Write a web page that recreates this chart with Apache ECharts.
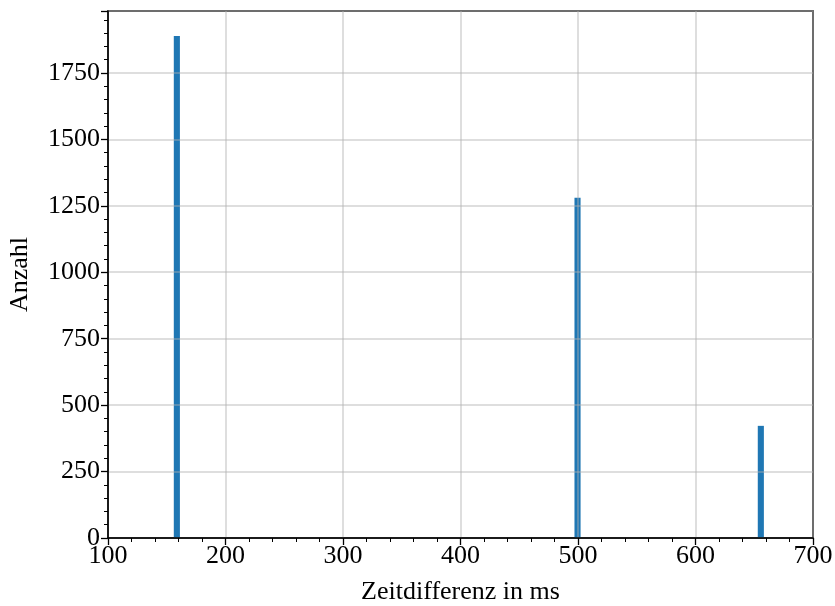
<!DOCTYPE html>
<html>
<head>
<meta charset="utf-8">
<script src="https://cdn.jsdelivr.net/npm/echarts@6/dist/echarts.min.js"></script>
<style>
  html, body { margin: 0; padding: 0; background: #fff; }
  #main { width: 835px; height: 606px; }
</style>
</head>
<body>
<div id="main"></div>
<script>
// Histogrammbalken: linke Kante, rechte Kante, Anzahl
var binStart = [156.0, 497.0, 653.0];
var binEnd = [161.2, 502.2, 658.2];
var counts = [1889, 1280, 422];

var xTicks = [100, 200, 300, 400, 500, 600, 700];
var yTicks = [0, 250, 500, 750, 1000, 1250, 1500, 1750];

var FONT = '"Liberation Serif", "DejaVu Serif", serif';

var barData = [];
for (var i = 0; i < counts.length; i++) {
    barData.push([binStart[i], binEnd[i], counts[i]]);
}

var myChart = echarts.init(document.getElementById('main'));

var option = {
    animation: false,
    grid: {
        left: 108, right: 22, top: 11, bottom: 68,
        outerBoundsMode: 'none',
        containLabel: false,
        show: true,
        borderColor: '#000',
        borderWidth: 1.5,
        backgroundColor: 'transparent'
    },
    xAxis: {
        type: 'value',
        min: xTicks[0],
        max: xTicks[xTicks.length - 1],
        interval: 100,
        z: 5,
        name: 'Zeitdifferenz in ms',
        nameLocation: 'middle',
        nameGap: 41,
        nameTextStyle: { fontFamily: FONT, fontSize: 26, color: '#000' },
        axisLine: { show: true, onZero: false, lineStyle: { color: '#000', width: 1.5 } },
        axisTick: { show: true, inside: false, length: 7, lineStyle: { color: '#000', width: 1.3 } },
        minorTick: { show: true, splitNumber: 5, length: 4, lineStyle: { color: '#000', width: 1 } },
        axisLabel: { fontFamily: FONT, fontSize: 26, color: '#000', margin: 5 },
        splitLine: { show: true, lineStyle: { color: 'rgba(176,176,176,0.55)', width: 1.5 } }
    },
    yAxis: {
        type: 'value',
        min: 0,
        max: 1983,
        interval: 250,
        z: 5,
        name: 'Anzahl',
        nameLocation: 'middle',
        nameGap: 75,
        nameTextStyle: { fontFamily: FONT, fontSize: 26, color: '#000' },
        axisLine: { show: true, lineStyle: { color: '#000', width: 1.5 } },
        axisTick: { show: true, inside: false, length: 7, lineStyle: { color: '#000', width: 1.3 } },
        minorTick: { show: true, splitNumber: 5, length: 4, lineStyle: { color: '#000', width: 1 } },
        axisLabel: {
            fontFamily: FONT, fontSize: 26, color: '#000', margin: 8,
            showMaxLabel: false,
            formatter: function (v) { return yTicks.indexOf(v) >= 0 ? String(v) : ''; }
        },
        splitLine: { show: true, lineStyle: { color: 'rgba(176,176,176,0.55)', width: 1.5 } }
    },
    series: [{
        type: 'custom',
        z: 2,
        data: barData,
        encode: { x: [0, 1], y: 2 },
        renderItem: function (params, api) {
            var p0 = api.coord([api.value(0), api.value(2)]);
            var p1 = api.coord([api.value(1), 0]);
            return {
                type: 'rect',
                shape: { x: p0[0], y: p0[1], width: p1[0] - p0[0], height: p1[1] - p0[1] },
                style: { fill: '#1f77b4' }
            };
        }
    }]
};

myChart.setOption(option);
</script>
</body>
</html>
